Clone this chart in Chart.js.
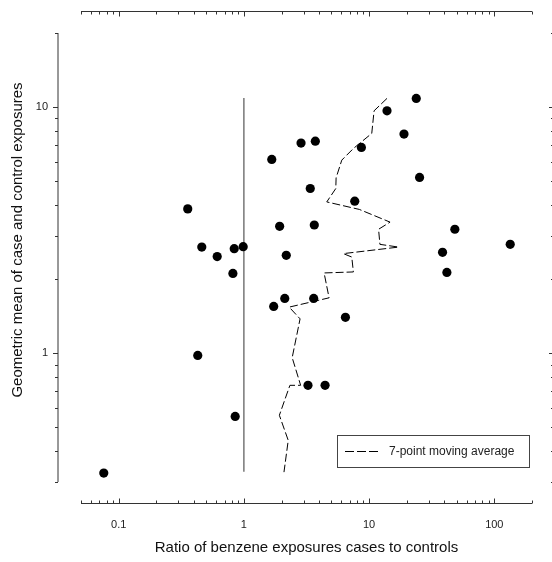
<!DOCTYPE html>
<html>
<head>
<meta charset="utf-8">
<script src="https://cdn.jsdelivr.net/npm/chart.js@4.4.1/dist/chart.umd.min.js"></script>
<style>
  body { margin: 0; background: #fff; }
  canvas { display: block; }
</style>
</head>
<body>
<canvas id="chart" width="552" height="562"></canvas>
<script>
// scatter: ratio of case/control exposure vs geometric mean
const ratio   = [0.076, 0.356, 0.428, 0.461, 0.612, 0.817, 0.837, 0.852, 0.987, 1.67, 1.73, 1.93, 2.12, 2.18, 2.86, 3.25,
                 3.39, 3.61, 3.65, 3.72, 4.45, 6.47, 7.68, 8.68, 13.9, 19.0, 23.8, 25.3, 38.6, 41.8, 48.4, 134];
const geoMean = [0.326, 3.86, 0.98, 2.70, 2.47, 2.11, 2.66, 0.554, 2.71, 6.13, 1.55, 3.28, 1.67, 2.50, 7.14, 0.741,
                 4.67, 1.67, 3.32, 7.27, 0.741, 1.40, 4.15, 6.86, 9.66, 7.77, 10.85, 5.18, 2.57, 2.13, 3.19, 2.77];

// 7-point moving average, top to bottom
const avgRatio   = [13.9, 10.96, 10.5, 7.49, 6.05, 5.45, 5.42, 4.59, 8.36, 14.7, 11.9, 12.2, 17.2, 6.23, 7.27, 7.49,
                    4.37, 4.79, 2.30, 2.81, 2.43, 2.84, 2.33, 1.92, 2.26, 2.09];
const avgGeoMean = [10.85, 9.66, 7.82, 6.79, 6.09, 5.16, 4.67, 4.12, 3.84, 3.41, 3.19, 2.77, 2.70, 2.54, 2.46, 2.14,
                    2.12, 1.68, 1.54, 1.38, 0.960, 0.741, 0.741, 0.560, 0.443, 0.329];

// reference line at ratio = 1
const refRatio   = [1, 1];
const refGeoMean = [10.9, 0.33];

const xTickLabels = [0.1, 1, 10, 100];
const yTickLabels = [1, 10];

const FONT = "'Liberation Sans', Arial, sans-serif";

function toPoints(xs, ys) {
  return xs.map((x, i) => ({ x: x, y: ys[i] }));
}

// every 1..9 x 10^n step between min and max
function logSteps(min, max) {
  const out = [];
  for (let e = Math.floor(Math.log10(min)); e <= Math.ceil(Math.log10(max)); e++) {
    for (let m = 1; m <= 9; m++) {
      const v = m * Math.pow(10, e);
      if (v >= min * 0.9999 && v <= max * 1.0001) out.push({ v: v, major: m === 1 });
    }
  }
  return out;
}

const framePlugin = {
  id: 'frame',
  afterDraw(chart) {
    const ctx = chart.ctx;
    const xs = chart.scales.x, ys = chart.scales.y;
    const a = chart.chartArea;
    ctx.save();
    ctx.strokeStyle = '#333';
    ctx.lineWidth = 1;

    // bottom and top x axes (offset from the plot)
    const xb = 503.5, xt = 11.5;
    ctx.beginPath();
    ctx.moveTo(a.left, xb); ctx.lineTo(a.right, xb);
    ctx.moveTo(a.left, xt); ctx.lineTo(a.right, xt);
    logSteps(xs.min, xs.max).forEach(t => {
      const px = Math.round(xs.getPixelForValue(t.v)) + 0.5;
      const len = t.major ? 5 : 3;
      ctx.moveTo(px, xb); ctx.lineTo(px, xb - len);
      ctx.moveTo(px, xt); ctx.lineTo(px, xt + len);
    });
    ctx.stroke();

    // left and right y axes
    const yl = 58, yr = 553;
    ctx.beginPath();
    ctx.moveTo(yl, a.top); ctx.lineTo(yl, a.bottom);
    ctx.moveTo(yr, a.top); ctx.lineTo(yr, a.bottom);
    logSteps(ys.min, ys.max).forEach(t => {
      const py = Math.round(ys.getPixelForValue(t.v)) + 0.5;
      ctx.moveTo(yl, py); ctx.lineTo(yl - (t.major ? 5 : 3), py);
      ctx.moveTo(yr, py); ctx.lineTo(yr - (t.major ? 4 : 2), py);
    });
    ctx.stroke();

    // axis titles
    ctx.fillStyle = '#111';
    ctx.font = '15px ' + FONT;
    ctx.textAlign = 'center';
    ctx.textBaseline = 'middle';
    ctx.fillText('Ratio of benzene exposures cases to controls', (a.left + a.right) / 2, 548);
    ctx.save();
    ctx.translate(18, 240);
    ctx.rotate(-Math.PI / 2);
    ctx.fillText('Geometric mean of case and control exposures', 0, 0);
    ctx.restore();

    // legend box
    ctx.strokeStyle = '#444';
    ctx.strokeRect(337.5, 435.5, 192, 32);
    ctx.strokeStyle = '#000';
    ctx.setLineDash([9, 3]);
    ctx.beginPath();
    ctx.moveTo(345, 451.5); ctx.lineTo(378, 451.5);
    ctx.stroke();
    ctx.setLineDash([]);
    ctx.font = '12px ' + FONT;
    ctx.textAlign = 'left';
    ctx.fillStyle = '#222';
    ctx.fillText(chart.data.datasets[1].label, 389, 452);
    ctx.restore();
  }
};

new Chart(document.getElementById('chart'), {
  type: 'scatter',
  data: {
    datasets: [
      {
        label: 'cases',
        data: toPoints(ratio, geoMean),
        pointRadius: 4.6,
        pointHoverRadius: 4.6,
        backgroundColor: '#000',
        borderWidth: 0
      },
      {
        label: '7-point moving average',
        data: toPoints(avgRatio, avgGeoMean),
        showLine: true,
        pointRadius: 0,
        borderColor: '#000',
        borderWidth: 1,
        borderDash: [8, 3],
        tension: 0
      },
      {
        label: 'ratio = 1',
        data: toPoints(refRatio, refGeoMean),
        showLine: true,
        pointRadius: 0,
        borderColor: '#555',
        borderWidth: 1.2
      }
    ]
  },
  options: {
    responsive: false,
    animation: false,
    layout: { padding: { top: 33, right: 20, left: 0, bottom: 0 } },
    plugins: {
      legend: { display: false },
      tooltip: { enabled: false }
    },
    scales: {
      x: {
        type: 'logarithmic',
        min: 0.05,
        max: 200,
        grid: { display: false, drawTicks: false },
        border: { display: false },
        afterBuildTicks: s => { s.ticks = xTickLabels.map(v => ({ value: v })); },
        afterFit: s => { s.height = 80; s.paddingLeft = 0; s.paddingRight = 0; },
        ticks: {
          autoSkip: false,
          maxRotation: 0,
          padding: 36,
          color: '#222',
          font: { family: FONT, size: 11 },
          callback: v => String(v)
        }
      },
      y: {
        type: 'logarithmic',
        min: 0.3,
        max: 20,
        grid: { display: false, drawTicks: false },
        border: { display: false },
        afterBuildTicks: s => { s.ticks = yTickLabels.map(v => ({ value: v })); },
        afterFit: s => { s.width = 81; s.paddingTop = 0; s.paddingBottom = 0; },
        ticks: {
          autoSkip: false,
          padding: 33,
          color: '#222',
          font: { family: FONT, size: 11 },
          callback: v => String(v)
        }
      }
    }
  },
  plugins: [framePlugin]
});
</script>
</body>
</html>
